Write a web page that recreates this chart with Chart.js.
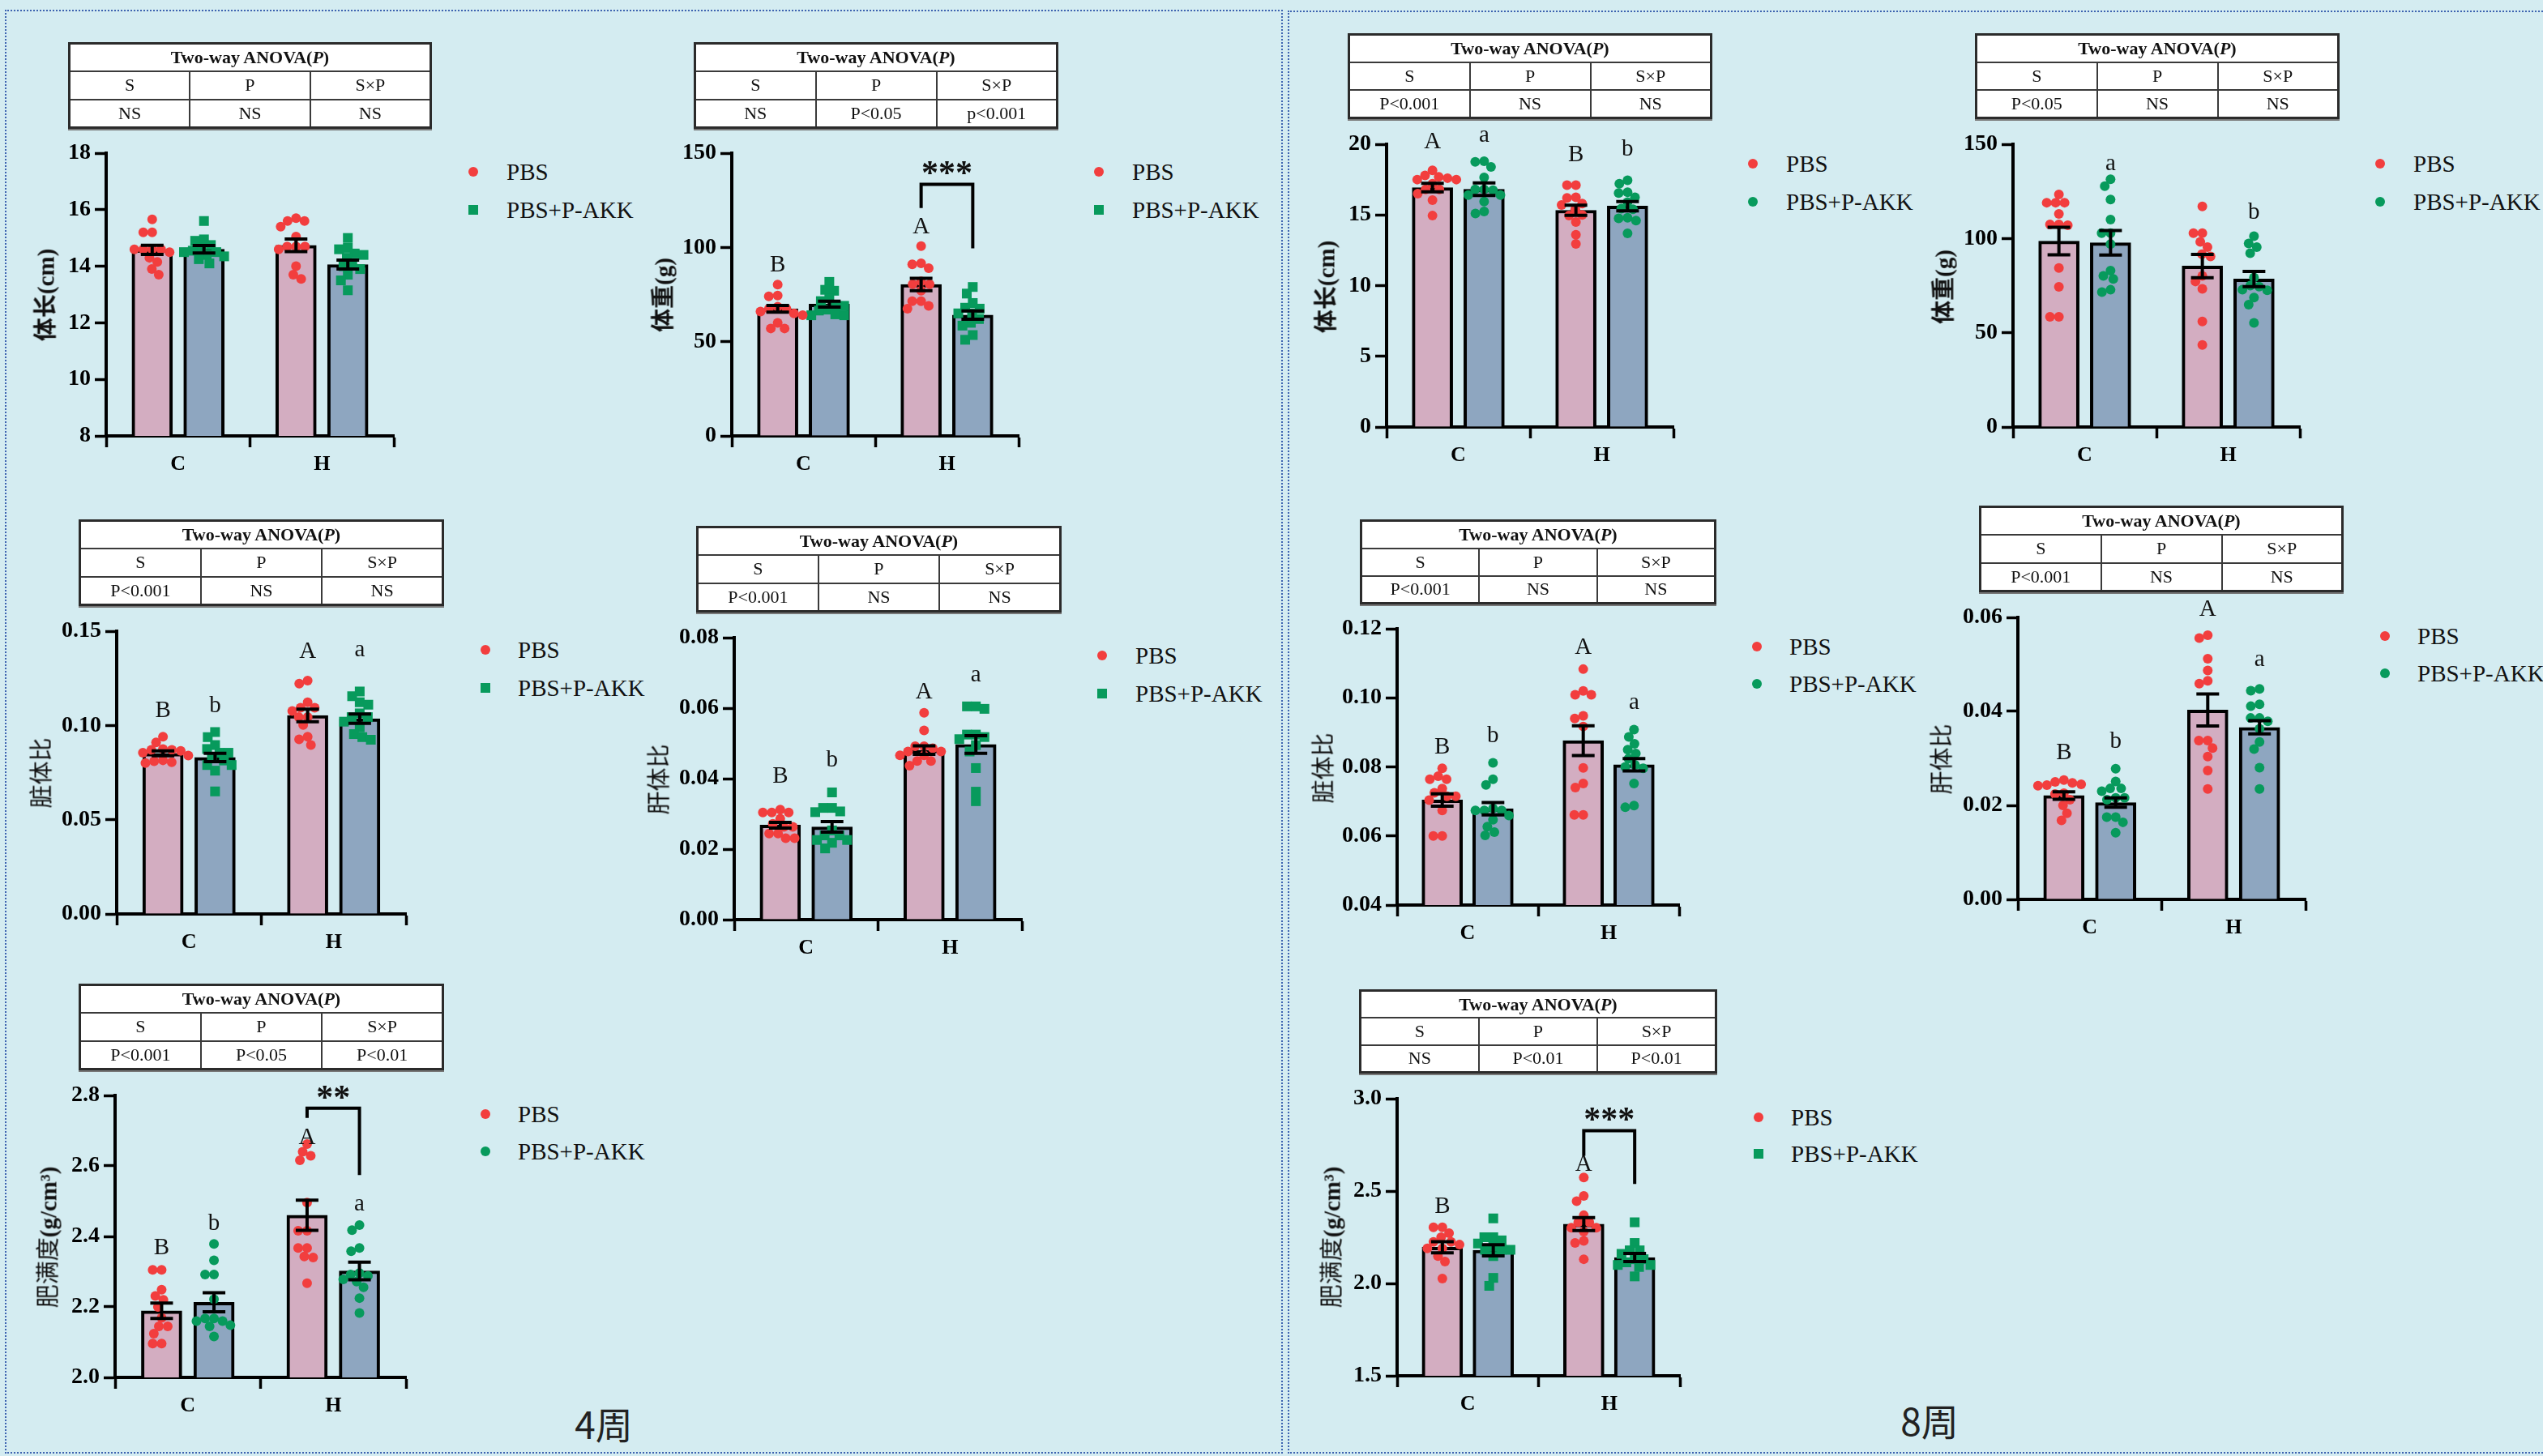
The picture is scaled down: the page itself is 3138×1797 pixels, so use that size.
<!DOCTYPE html>
<html>
<head>
<meta charset="utf-8">
<script src="https://cdn.jsdelivr.net/npm/chart.js@4.4.1/dist/chart.umd.min.js"></script>
<style>
html, body { margin: 0; padding: 0; }
body { width: 3138px; height: 1797px; background: #d4ecf1; position: relative; overflow: hidden;
       font-family: "Liberation Serif", "Noto Sans CJK SC", serif; }
.frame { position: absolute; box-sizing: border-box; border: 2px dotted #3d63b0; }
canvas { position: absolute; }
table.anova { position: absolute; border-collapse: collapse; background: #fff; border: 3px solid #2b2b2b;
              table-layout: fixed; font-size: 22px; color: #111; box-shadow: 0 2px 0 #777; }
table.anova td, table.anova th { border: 2px solid #3a3a3a; text-align: center; padding: 0; }
table.anova th { font-weight: bold; }
.ytitle { position: absolute; white-space: nowrap; transform: translate(-50%, -50%) rotate(-90deg);
          font-size: 29px; color: #111; line-height: 1; }
.mark { position: absolute; }
.legtext { position: absolute; font-size: 29px; line-height: 30px; color: #111; white-space: nowrap; }
.week { position: absolute; font-family: "Noto Sans CJK SC"; font-size: 46px; color: #222;
        transform: translate(-50%, -50%); line-height: 1; }
</style>
</head>
<body>
<div class="frame" style="left:6px;top:12px;width:1577px;height:1782px"></div>
<div class="frame" style="left:1589px;top:13px;width:1560px;height:1781px"></div>
<div class="week" style="left:745px;top:1756px">4周</div>
<div class="week" style="left:2381px;top:1752px">8周</div>
<script>
const categories = ['C', 'H'];
const seriesNames = ['PBS', 'PBS+P-AKK'];
const anovaHeader = ['S', 'P', 'S×P'];

// 4周 体长(cm)
const len4Ticks = [8, 10, 12, 14, 16, 18];
const len4Mean = [[14.58, 14.74], [14.6, 14.06]];
const len4Sem = [[0.16, 0.22], [0.13, 0.16]];
const len4Pbs = [[15.66, 15.2, 15.2, 14.6, 14.6, 14.6, 14.6, 14.5, 14.3, 14.15, 13.9, 13.7],
                 [15.7, 15.6, 15.6, 15.4, 15.05, 14.7, 14.7, 14.7, 14.6, 14.0, 13.7, 13.55]];
const len4Akk = [[15.6, 14.95, 14.9, 14.75, 14.65, 14.55, 14.5, 14.5, 14.4, 14.35, 14.25, 14.1],
                 [15.0, 14.65, 14.6, 14.45, 14.4, 14.3, 14.05, 14.0, 13.9, 13.7, 13.5, 13.15]];
const len4Letters = [['', ''], ['', '']];
const len4Anova = ['NS', 'NS', 'NS'];

// 4周 体重(g)
const wt4Ticks = [0, 50, 100, 150];
const wt4Mean = [[67.4, 80.3], [69.9, 64.1]];
const wt4Sem = [[1.8, 3.3], [1.6, 2.2]];
const wt4Pbs = [[80.3, 74.5, 74, 68.5, 67.5, 67.5, 66, 65, 64, 60, 57, 57],
                [100.7, 91.5, 91, 89, 82, 80.5, 80.5, 77, 71.5, 71.5, 69, 67.5]];
const wt4Akk = [[81.7, 77.5, 77, 73, 71.5, 69.5, 69, 67, 66.5, 64.5, 64, 64],
                [79, 75.5, 70.5, 68, 67.5, 65, 65, 62, 60, 58.5, 53.5, 51]];
const wt4Letters = [['B', 'A'], ['', '']];
const wt4Anova = ['NS', 'P<0.05', 'p<0.001'];
const wt4Sig = '***';

// 8周 体长(cm)
const len8Ticks = [0, 5, 10, 15, 20];
const len8Mean = [[16.93, 15.33], [16.82, 15.62]];
const len8Sem = [[0.3, 0.36], [0.45, 0.33]];
const len8Pbs = [[18.15, 17.8, 17.7, 17.6, 17.5, 17.5, 17.2, 16.8, 16.8, 16.5, 16.05, 14.95],
                 [17.1, 17.1, 16.25, 16.2, 15.8, 15.7, 15.4, 15.0, 14.95, 14.5, 13.6, 12.95]];
const len8Akk = [[18.8, 18.75, 18.4, 17.65, 16.8, 16.8, 16.75, 16.4, 16.4, 15.95, 15.25, 15.1],
                 [17.45, 17.2, 16.6, 16.55, 16.25, 15.9, 15.45, 15.4, 14.8, 14.75, 14.6, 13.7]];
const len8Letters = [['A', 'B'], ['a', 'b']];
const len8Anova = ['P<0.001', 'NS', 'NS'];

// 8周 体重(g)
const wt8Ticks = [0, 50, 100, 150];
const wt8Mean = [[98.6, 85.4], [97.7, 78.5]];
const wt8Sem = [[7.3, 6.2], [6.5, 4.0]];
const wt8Pbs = [[123.4, 119, 119, 119, 113, 107.5, 107.5, 107, 84.3, 74.4, 58.5, 58.5],
                [117, 102.8, 102.8, 98.2, 95.4, 91.7, 90.5, 80.2, 77.2, 73.3, 56, 43.5]];
const wt8Akk = [[131.4, 127.8, 120.7, 110, 102.8, 102.8, 97, 83, 80.2, 78.5, 72.8, 71.6],
                [101.2, 97.4, 95.4, 92.2, 79.3, 75, 74.5, 72.8, 72.5, 68.7, 64.9, 55.2]];
const wt8Letters = [['', ''], ['a', 'b']];
const wt8Anova = ['P<0.05', 'NS', 'NS'];

// 4周 脏体比
const vis4Ticks = [0, 0.05, 0.10, 0.15];
const vis4Mean = [[0.0852, 0.1053], [0.083, 0.1036]];
const vis4Sem = [[0.0013, 0.0033], [0.0022, 0.0025]];
const vis4Pbs = [[0.094, 0.091, 0.0875, 0.087, 0.087, 0.0865, 0.0855, 0.084, 0.0815, 0.081, 0.080, 0.0805],
                 [0.1238, 0.1222, 0.1123, 0.1094, 0.1094, 0.1077, 0.1044, 0.1044, 0.1003, 0.094, 0.0926, 0.0896]];
const vis4Akk = [[0.0965, 0.0938, 0.0896, 0.0875, 0.0855, 0.0855, 0.083, 0.0814, 0.079, 0.079, 0.076, 0.065],
                 [0.118, 0.1155, 0.1123, 0.111, 0.1064, 0.1044, 0.1044, 0.102, 0.099, 0.0954, 0.0938, 0.0924]];
const vis4Letters = [['B', 'A'], ['b', 'a']];
const vis4Anova = ['P<0.001', 'NS', 'NS'];

// 4周 肝体比
const liv4Ticks = [0, 0.02, 0.04, 0.06, 0.08];
const liv4Mean = [[0.0268, 0.0481], [0.0263, 0.0497]];
const liv4Sem = [[0.0008, 0.0012], [0.0015, 0.0025]];
const liv4Pbs = [[0.0312, 0.0304, 0.0304, 0.0304, 0.0286, 0.0272, 0.0263, 0.0263, 0.0244, 0.0244, 0.0231, 0.0231],
                 [0.0587, 0.0537, 0.0492, 0.0492, 0.0486, 0.0477, 0.0477, 0.0466, 0.0466, 0.045, 0.045, 0.0437]];
const liv4Akk = [[0.0361, 0.0317, 0.0317, 0.0307, 0.0305, 0.0253, 0.0239, 0.0239, 0.0226, 0.0226, 0.0218, 0.0202],
                 [0.0605, 0.0605, 0.0598, 0.0525, 0.0525, 0.0518, 0.0512, 0.0495, 0.0477, 0.043, 0.0363, 0.0336]];
const liv4Letters = [['B', 'A'], ['b', 'a']];
const liv4Anova = ['P<0.001', 'NS', 'NS'];

// 8周 脏体比
const vis8Ticks = [0.04, 0.06, 0.08, 0.10, 0.12];
const vis8Mean = [[0.0704, 0.0876], [0.0679, 0.0806]];
const vis8Sem = [[0.0018, 0.0043], [0.0018, 0.0018]];
const vis8Pbs = [[0.0796, 0.0773, 0.0764, 0.0764, 0.0737, 0.0725, 0.0715, 0.0715, 0.0704, 0.0674, 0.060, 0.060],
                 [0.1083, 0.102, 0.1009, 0.1009, 0.0948, 0.094, 0.0917, 0.0797, 0.0752, 0.074, 0.0661, 0.0661]];
const vis8Akk = [[0.0812, 0.0764, 0.0748, 0.068, 0.0674, 0.0674, 0.0674, 0.0659, 0.0647, 0.0627, 0.0611, 0.0602],
                 [0.0908, 0.0887, 0.0867, 0.085, 0.0839, 0.0824, 0.0806, 0.08, 0.0796, 0.0752, 0.0688, 0.0683]];
const vis8Letters = [['B', 'A'], ['b', 'a']];
const vis8Anova = ['P<0.001', 'NS', 'NS'];

// 8周 肝体比
const liv8Ticks = [0, 0.02, 0.04, 0.06];
const liv8Mean = [[0.0221, 0.0403], [0.0206, 0.0366]];
const liv8Sem = [[0.0008, 0.0034], [0.001, 0.0014]];
const liv8Pbs = [[0.0254, 0.025, 0.0248, 0.0245, 0.0243, 0.0242, 0.0226, 0.0224, 0.0212, 0.02, 0.0183, 0.0168],
                 [0.0562, 0.0556, 0.0512, 0.0487, 0.0465, 0.0459, 0.0338, 0.0338, 0.0322, 0.0304, 0.0274, 0.0235]];
const liv8Akk = [[0.0278, 0.0251, 0.0236, 0.0236, 0.023, 0.0216, 0.0216, 0.0212, 0.0175, 0.0175, 0.0164, 0.0142],
                 [0.0448, 0.0444, 0.0415, 0.0411, 0.0386, 0.0386, 0.0379, 0.0363, 0.0335, 0.032, 0.028, 0.0235]];
const liv8Letters = [['B', 'A'], ['b', 'a']];
const liv8Anova = ['P<0.001', 'NS', 'NS'];

// 4周 肥满度(g/cm3)
const fat4Ticks = [2.0, 2.2, 2.4, 2.6, 2.8];
const fat4Mean = [[2.189, 2.46], [2.213, 2.302]];
const fat4Sem = [[0.022, 0.043], [0.027, 0.025]];
const fat4Pbs = [[2.305, 2.305, 2.249, 2.231, 2.22, 2.2, 2.169, 2.145, 2.145, 2.124, 2.096, 2.096],
                 [2.662, 2.64, 2.629, 2.616, 2.496, 2.416, 2.416, 2.367, 2.367, 2.343, 2.34, 2.267]];
const fat4Akk = [[2.379, 2.332, 2.292, 2.292, 2.222, 2.167, 2.167, 2.16, 2.16, 2.148, 2.145, 2.116],
                 [2.432, 2.418, 2.367, 2.358, 2.296, 2.292, 2.288, 2.278, 2.272, 2.256, 2.225, 2.183]];
const fat4Letters = [['B', 'A'], ['b', 'a']];
const fat4Anova = ['P<0.001', 'P<0.05', 'P<0.01'];
const fat4Sig = '**';

// 8周 肥满度(g/cm3)
const fat8Ticks = [1.5, 2.0, 2.5, 3.0];
const fat8Mean = [[2.196, 2.321], [2.179, 2.14]];
const fat8Sem = [[0.03, 0.035], [0.03, 0.022]];
const fat8Pbs = [[2.304, 2.304, 2.272, 2.25, 2.225, 2.225, 2.21, 2.19, 2.19, 2.148, 2.118, 2.026],
                 [2.573, 2.474, 2.445, 2.369, 2.331, 2.331, 2.301, 2.301, 2.281, 2.23, 2.219, 2.131]];
const fat8Akk = [[2.352, 2.25, 2.25, 2.233, 2.216, 2.2, 2.182, 2.182, 2.182, 2.148, 2.03, 1.987],
                 [2.331, 2.219, 2.179, 2.179, 2.16, 2.131, 2.131, 2.114, 2.1, 2.1, 2.089, 2.038]];
const fat8Letters = [['B', 'A'], ['', '']];
const fat8Anova = ['NS', 'P<0.01', 'P<0.01'];
const fat8Sig = '***';

const PINK = '#d3adc1', BLUE = '#8ea6c0', RED = '#f23e3e', GREEN = '#079a5c';
const SERIF = '"Liberation Serif", "Times New Roman", serif';
const GROUP_SHIFT = 0.18;   // bar offset from the category centre, in category units

// layout: area = [left, top, right, bottom] of plot, table = [x, y, w, h],
// legend = [markX, y1, y2, textX], tpos = y title centre, gaps = letter offsets (px)
const panels = [
  { mean: len4Mean, sem: len4Sem, pts: [len4Pbs, len4Akk], ticks: len4Ticks, dec: 0, letters: len4Letters, anova: len4Anova,
    title: '体长(cm)', weight: 'bold', shape: 'rect',
    area: [131, 189, 486, 538], table: [84, 52, 449, 107], legend: [584, 212, 259, 625], tpos: [57, 364],
    gaps: [[0, 0], [0, 0]] },
  { mean: wt4Mean, sem: wt4Sem, pts: [wt4Pbs, wt4Akk], ticks: wt4Ticks, dec: 0, letters: wt4Letters, anova: wt4Anova,
    title: '体重(g)', weight: 'bold', shape: 'rect',
    area: [903, 189, 1257, 538], table: [856, 52, 450, 107], legend: [1356, 212, 259, 1397], tpos: [819, 364],
    gaps: [[16, 16], [0, 0]], bracket: [133.5, 120.9, 99.5], sig: wt4Sig },
  { mean: len8Mean, sem: len8Sem, pts: [len8Pbs, len8Akk], ticks: len8Ticks, dec: 0, letters: len8Letters, anova: len8Anova,
    title: '体长(cm)', weight: 'bold', shape: 'circle',
    area: [1711, 178, 2065, 527], table: [1663, 41, 450, 106], legend: [2163, 202, 249, 2204], tpos: [1637, 354],
    gaps: [[27, 30], [24, 30]] },
  { mean: wt8Mean, sem: wt8Sem, pts: [wt8Pbs, wt8Akk], ticks: wt8Ticks, dec: 0, letters: wt8Letters, anova: wt8Anova,
    title: '体重(g)', weight: 'bold', shape: 'circle',
    area: [2484, 178, 2838, 527], table: [2437, 41, 450, 106], legend: [2937, 202, 249, 2978], tpos: [2399, 354],
    gaps: [[0, 0], [11, 22]] },
  { mean: vis4Mean, sem: vis4Sem, pts: [vis4Pbs, vis4Akk], ticks: vis4Ticks, dec: 2, letters: vis4Letters, anova: vis4Anova,
    title: '脏体比', weight: 'normal', shape: 'rect',
    area: [144, 779, 501, 1128], table: [97, 641, 451, 107], legend: [599, 802, 849, 639], tpos: [52, 954],
    gaps: [[24, 28], [24, 43]] },
  { mean: liv4Mean, sem: liv4Sem, pts: [liv4Pbs, liv4Akk], ticks: liv4Ticks, dec: 2, letters: liv4Letters, anova: liv4Anova,
    title: '肝体比', weight: 'normal', shape: 'rect',
    area: [906, 787, 1261, 1135], table: [859, 649, 451, 107], legend: [1360, 809, 856, 1401], tpos: [814, 962],
    gaps: [[33, 18], [32, 31]] },
  { mean: vis8Mean, sem: vis8Sem, pts: [vis8Pbs, vis8Akk], ticks: vis8Ticks, dec: 2, letters: vis8Letters, anova: vis8Anova,
    title: '脏体比', weight: 'normal', shape: 'circle',
    area: [1724, 776, 2072, 1117], table: [1678, 641, 440, 105], legend: [2168, 798, 844, 2208], tpos: [1634, 948],
    gaps: [[18, 19], [25, 25]] },
  { mean: liv8Mean, sem: liv8Sem, pts: [liv8Pbs, liv8Akk], ticks: liv8Ticks, dec: 2, letters: liv8Letters, anova: liv8Anova,
    title: '肝体比', weight: 'normal', shape: 'circle',
    area: [2490, 762, 2845, 1110], table: [2442, 624, 450, 107], legend: [2943, 785, 831, 2983], tpos: [2397, 937],
    gaps: [[26, 24], [26, 28]] },
  { mean: fat4Mean, sem: fat4Sem, pts: [fat4Pbs, fat4Akk], ticks: fat4Ticks, dec: 1, letters: fat4Letters, anova: fat4Anova,
    title: '肥满度(g/cm³)', weight: 'mixed', shape: 'circle',
    area: [142, 1352, 501, 1700], table: [97, 1214, 451, 107], legend: [599, 1375, 1421, 639], tpos: [60, 1527],
    gaps: [[19, 0], [17, 18]], bracket: [2.764, 2.736, 2.574], sig: fat4Sig },
  { mean: fat8Mean, sem: fat8Sem, pts: [fat8Pbs, fat8Akk], ticks: fat8Ticks, dec: 1, letters: fat8Letters, anova: fat8Anova,
    title: '肥满度(g/cm³)', weight: 'mixed', shape: 'rect',
    area: [1724, 1356, 2073, 1698], table: [1677, 1221, 442, 104], legend: [2170, 1379, 1424, 2210], tpos: [1644, 1527],
    gaps: [[18, 8], [0, 0]], bracket: [2.827, 2.691, 2.538], sig: fat8Sig }
];

// simple beeswarm: returns horizontal px offsets for points at the given y pixels
function swarm(ys, d) {
  const order = ys.map((y, i) => i).sort((a, b) => ys[a] - ys[b]);
  const placed = [];
  const dx = new Array(ys.length).fill(0);
  order.forEach(i => {
    const y = ys[i];
    const cands = [0];
    placed.forEach(p => {
      const dy = Math.abs(p.y - y);
      if (dy < d) {
        const w = Math.sqrt(d * d - dy * dy);
        cands.push(p.x + w, p.x - w);
      }
    });
    cands.sort((a, b) => Math.abs(a) - Math.abs(b) || a - b);
    const ok = cands.find(c => placed.every(p => (p.x - c) ** 2 + (p.y - y) ** 2 >= d * d - 0.01));
    dx[i] = ok;
    placed.push({ x: ok, y: y });
  });
  return dx;
}

function addTable(p) {
  const [x, y, w, h] = p.table;
  const t = document.createElement('table');
  t.className = 'anova';
  t.style.cssText = `left:${x}px;top:${y}px;width:${w}px;height:${h}px`;
  const rh = (h - 6) / 3;
  t.innerHTML =
    `<tr style="height:${rh}px"><th colspan="3">Two-way ANOVA(<i>P</i>)</th></tr>` +
    `<tr style="height:${rh}px">${anovaHeader.map(s => `<td>${s}</td>`).join('')}</tr>` +
    `<tr style="height:${rh}px">${p.anova.map(s => `<td>${s.replace('<', '&lt;')}</td>`).join('')}</tr>`;
  document.body.appendChild(t);
}

function addLegend(p) {
  const [mx, y1, y2, tx] = p.legend;
  [[y1, 'circle', RED, seriesNames[0]], [y2, p.shape, GREEN, seriesNames[1]]].forEach(([y, shape, col, txt]) => {
    const m = document.createElement('div');
    m.className = 'mark';
    const s = 12;
    m.style.cssText = `left:${mx - s / 2}px;top:${y - s / 2}px;width:${s}px;height:${s}px;background:${col};` +
      (shape === 'circle' ? 'border-radius:50%;' : '');
    document.body.appendChild(m);
    const t = document.createElement('div');
    t.className = 'legtext';
    t.style.left = tx + 'px';
    t.style.top = (y - 15) + 'px';
    t.textContent = txt;
    document.body.appendChild(t);
  });
}

function addTitle(p) {
  const d = document.createElement('div');
  d.className = 'ytitle';
  d.style.left = p.tpos[0] + 'px';
  d.style.top = p.tpos[1] + 'px';
  if (p.weight === 'mixed') {
    d.style.fontWeight = 'bold';
    d.innerHTML = p.title.replace(/([\u4e00-\u9fff]+)/g, '<span style="font-weight:400">$1</span>');
  } else {
    d.style.fontWeight = p.weight;
    d.textContent = p.title;
  }
  document.body.appendChild(d);
}

function makeChart(p) {
  const [x0, y0, x1, y1] = p.area;
  const padL = 120, padT = 90, padR = 12, padB = 60;
  const cv = document.createElement('canvas');
  const W = x1 - x0 + padL + padR, H = y1 - y0 + padT + padB;
  cv.width = W; cv.height = H;
  cv.style.cssText = `left:${x0 - padL}px;top:${y0 - padT}px;width:${W}px;height:${H}px`;
  document.body.appendChild(cv);

  const shift = s => (s ? GROUP_SHIFT : -GROUP_SHIFT);
  const barData = s => categories.map((c, ci) => ({ x: ci + shift(s), y: p.mean[s][ci] }));
  const pointData = s => {
    const out = [];
    categories.forEach((c, ci) => p.pts[s][ci].forEach(v => out.push({ x: ci + shift(s), y: v })));
    return out;
  };

  const annot = {
    id: 'annot',
    afterDatasetsDraw(chart) {
      const ctx = chart.ctx, ys = chart.scales.y;
      ctx.save();
      ctx.strokeStyle = '#000';
      ctx.fillStyle = '#111';
      ctx.lineWidth = 4;
      [0, 1].forEach(s => {
        const meta = chart.getDatasetMeta(s);
        categories.forEach((c, ci) => {
          const x = meta.data[ci].x;
          const m = p.mean[s][ci], e = p.sem[s][ci];
          const ya = ys.getPixelForValue(m + e), yb = ys.getPixelForValue(m - e);
          ctx.beginPath();
          ctx.moveTo(x, ya); ctx.lineTo(x, yb);
          ctx.moveTo(x - 14, ya); ctx.lineTo(x + 14, ya);
          ctx.moveTo(x - 14, yb); ctx.lineTo(x + 14, yb);
          ctx.stroke();
          const lt = p.letters[s][ci];
          if (lt) {
            const top = Math.min(ya, ...p.pts[s][ci].map(v => ys.getPixelForValue(v)));
            ctx.font = '29px ' + SERIF;
            ctx.textAlign = 'center';
            ctx.textBaseline = 'alphabetic';
            ctx.fillText(lt, x, top - p.gaps[s][ci]);
          }
        });
      });
      if (p.bracket) {
        const xl = chart.getDatasetMeta(0).data[1].x, xr = chart.getDatasetMeta(1).data[1].x;
        const [bt, bl, br] = p.bracket.map(v => ys.getPixelForValue(v));
        ctx.beginPath();
        ctx.moveTo(xl, bl); ctx.lineTo(xl, bt); ctx.lineTo(xr, bt); ctx.lineTo(xr, br);
        ctx.stroke();
        ctx.font = 'bold 42px ' + SERIF;
        ctx.textAlign = 'center';
        ctx.textBaseline = 'middle';
        ctx.fillText(p.sig, (xl + xr) / 2, bt - 11);
      }
      ctx.restore();
    }
  };

  const barStyle = { borderColor: '#000', borderWidth: 4, grouped: false,
                     categoryPercentage: 1, barPercentage: 1, maxBarThickness: 50, order: 2 };
  const chart = new Chart(cv, {
    type: 'bar',
    data: {
      datasets: [
        Object.assign({ label: seriesNames[0], data: barData(0), backgroundColor: PINK }, barStyle),
        Object.assign({ label: seriesNames[1], data: barData(1), backgroundColor: BLUE }, barStyle),
        { type: 'scatter', label: seriesNames[0], data: pointData(0), order: 1,
          pointStyle: 'circle', pointRadius: 6, backgroundColor: RED, borderWidth: 0 },
        { type: 'scatter', label: seriesNames[1], data: pointData(1), order: 1,
          pointStyle: p.shape, pointRadius: p.shape === 'rect' ? 8.5 : 6, backgroundColor: GREEN, borderWidth: 0 }
      ]
    },
    options: {
      responsive: false,
      animation: false,
      events: [],
      layout: { padding: { left: 0, top: padT, right: padR, bottom: 0 } },
      plugins: { legend: { display: false }, tooltip: { enabled: false } },
      scales: {
        x: {
          type: 'linear', min: -0.5, max: 1.5, offset: false,
          afterBuildTicks: s => { s.ticks = categories.map((c, i) => ({ value: i })); },
          grid: { display: true, drawOnChartArea: false, drawTicks: true, tickLength: 14, tickWidth: 3.5,
                  tickColor: '#000' },
          border: { display: true, color: '#000', width: 4 },
          ticks: { color: '#000', padding: 6, font: { family: SERIF, size: 26, weight: 'bold' },
                   callback: v => categories[Math.round(v)] },
          afterFit: s => { s.height = padB; }
        },
        y: {
          type: 'linear', min: p.ticks[0], max: p.ticks[p.ticks.length - 1],
          afterBuildTicks: s => { s.ticks = p.ticks.map(v => ({ value: v })); },
          grid: { display: true, drawOnChartArea: false, drawTicks: true, tickLength: 14, tickWidth: 3.5,
                  tickColor: '#000' },
          border: { display: true, color: '#000', width: 4 },
          ticks: { color: '#000', padding: 5, font: { family: SERIF, size: 28, weight: 'bold' },
                   callback: v => Number(v).toFixed(p.dec) },
          afterFit: s => { s.width = padL; }
        }
      }
    },
    plugins: [annot]
  });

  // spread the points of each group around its bar
  const xs = chart.scales.x, ysc = chart.scales.y;
  [0, 1].forEach(s => {
    const meta = chart.getDatasetMeta(s);
    const out = [];
    categories.forEach((c, ci) => {
      const vals = p.pts[s][ci];
      const cx = meta.data[ci].x;
      const dx = swarm(vals.map(v => ysc.getPixelForValue(v)), 11);
      vals.forEach((v, i) => out.push({ x: xs.getValueForPixel(cx + dx[i]), y: v }));
    });
    chart.data.datasets[2 + s].data = out;
  });
  chart.update('none');
}

panels.forEach(p => {
  makeChart(p);
  addTable(p);
  addLegend(p);
  addTitle(p);
});
</script>
</body>
</html>
